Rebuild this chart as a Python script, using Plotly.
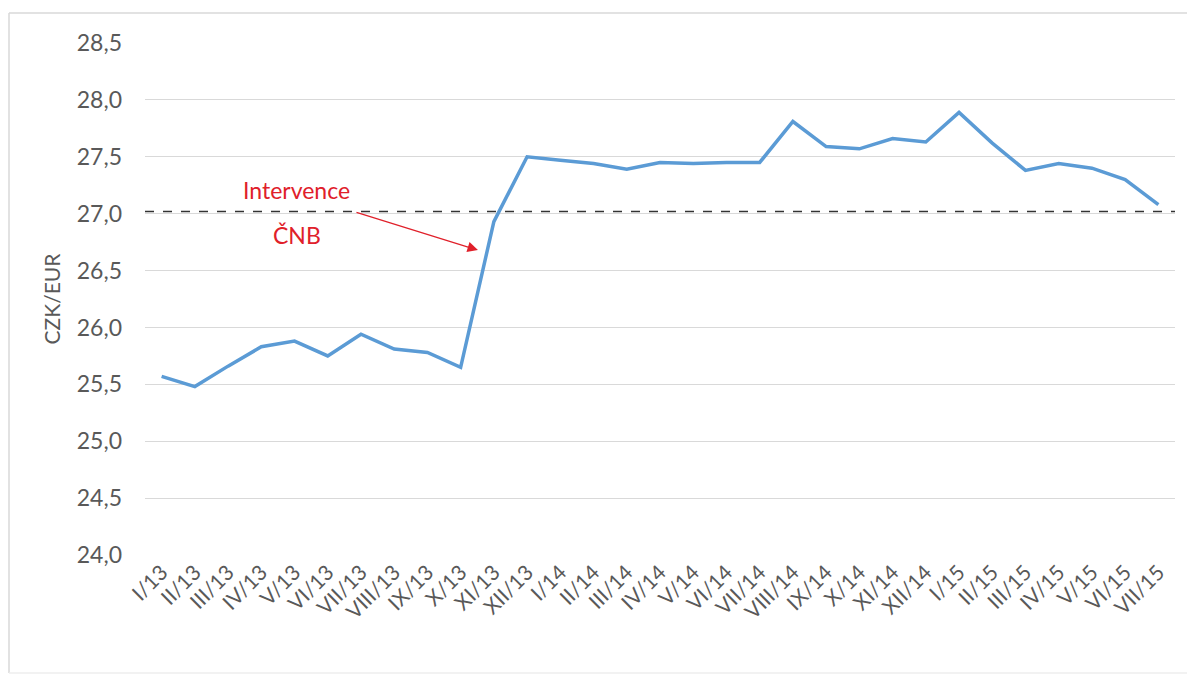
import plotly.graph_objects as go

months = ["I/13", "II/13", "III/13", "IV/13", "V/13", "VI/13", "VII/13", "VIII/13", "IX/13", "X/13", "XI/13", "XII/13",
          "I/14", "II/14", "III/14", "IV/14", "V/14", "VI/14", "VII/14", "VIII/14", "IX/14", "X/14", "XI/14", "XII/14",
          "I/15", "II/15", "III/15", "IV/15", "V/15", "VI/15", "VII/15"]
rate = [25.57, 25.48, 25.66, 25.83, 25.88, 25.75, 25.94, 25.81, 25.78, 25.65, 26.93, 27.50,
        27.47, 27.44, 27.39, 27.45, 27.44, 27.45, 27.45, 27.81, 27.59, 27.57, 27.66, 27.63,
        27.89, 27.62, 27.38, 27.44, 27.40, 27.30, 27.08]
floor_level = 27.02
y_ticks = [24.0, 24.5, 25.0, 25.5, 26.0, 26.5, 27.0, 27.5, 28.0, 28.5]
y_tick_labels = ["24,0", "24,5", "25,0", "25,5", "26,0", "26,5", "27,0", "27,5", "28,0", "28,5"]

FONT = "Lato"
GREY = "#595959"
RED = "#e0202a"

fig = go.Figure()
fig.add_trace(go.Scatter(x=months, y=rate, mode="lines",
                         line=dict(color="#5b9bd5", width=3.5), showlegend=False))

fig.add_shape(type="line", xref="paper", yref="y", x0=0, x1=1, y0=floor_level, y1=floor_level,
              line=dict(color="#333333", width=1.5, dash="dash"))

# chart border (top, left, bottom)
bx0, bx1 = -136/1030, 1.02
by0, by1 = -118/512, 1 + 30/512
border = dict(color="#d9d9d9", width=1.5)
fig.add_shape(type="line", xref="paper", yref="paper", x0=bx0, x1=bx1, y0=by1, y1=by1, line=border, layer="below")
fig.add_shape(type="line", xref="paper", yref="paper", x0=bx0, x1=bx0, y0=by0, y1=by1, line=border, layer="below")
fig.add_shape(type="line", xref="paper", yref="paper", x0=bx0, x1=bx1, y0=by0, y1=by0,
              line=dict(color="#eeeeee", width=1.5), layer="below")

fig.add_annotation(x=4.07, y=27.21, xref="x", yref="y", text="Intervence", showarrow=False,
                   font=dict(family=FONT, size=23, color=RED))
fig.add_annotation(x=4.07, y=26.81, xref="x", yref="y", text="ČNB", showarrow=False,
                   font=dict(family=FONT, size=23, color=RED))
fig.add_annotation(x=9.52, y=26.68, xref="x", yref="y", ax=5.82, ay=27.015, axref="x", ayref="y",
                   text="", showarrow=True, arrowhead=2, arrowsize=1.6, arrowwidth=1.3, arrowcolor=RED)

fig.update_layout(
    width=1187, height=677,
    margin=dict(l=145, r=12, t=43, b=122),
    paper_bgcolor="white", plot_bgcolor="white",
    font=dict(family=FONT, color=GREY),
    xaxis=dict(type="category", range=[-0.5, len(months) - 0.5], tickangle=-45,
               tickfont=dict(family=FONT, size=21, color=GREY), showgrid=False,
               showline=False, ticks="", zeroline=False),
    yaxis=dict(range=[24.0, 28.5], tickvals=y_ticks, ticktext=y_tick_labels,
               tickfont=dict(family=FONT, size=23, color=GREY), gridcolor="#d9d9d9", gridwidth=1,
               showline=False, zeroline=False, ticks="", ticklen=0, ticklabelstandoff=22,
               title=dict(text="CZK/EUR", font=dict(family=FONT, size=21, color=GREY), standoff=10)),
)

fig.write_html("out.html")
